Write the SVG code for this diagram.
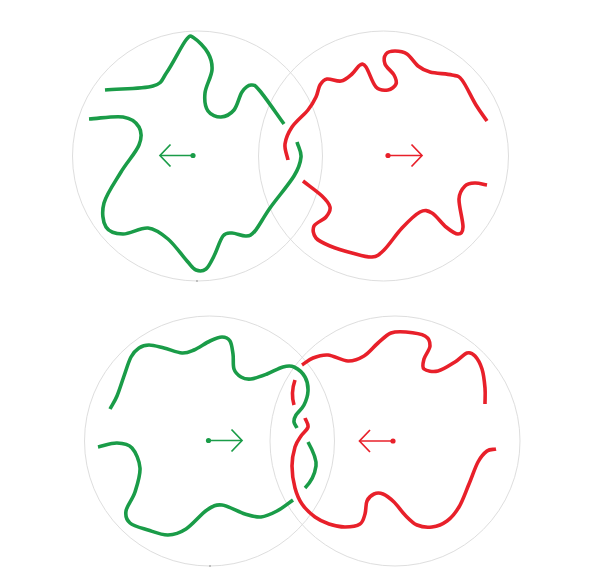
<svg xmlns="http://www.w3.org/2000/svg" width="597" height="587" viewBox="0 0 597 587">
<style>
.ring{fill:none;stroke:#dedede;stroke-width:1}
.g{fill:none;stroke:#1a9c48;stroke-width:3.6;stroke-linecap:butt;stroke-linejoin:round}
.r{fill:none;stroke:#e8202a;stroke-width:3.6;stroke-linecap:butt;stroke-linejoin:round}
.ga{fill:none;stroke:#1a9c48;stroke-width:1.7}
.ra{fill:none;stroke:#e8202a;stroke-width:1.7}
.tick{fill:#333}
</style>
<rect width="597" height="587" fill="#ffffff"/>
<g id="rings">
<circle class="ring" cx="197.5" cy="156" r="125"/>
<circle class="ring" cx="383.5" cy="156" r="125"/>
<circle class="ring" cx="209.5" cy="441" r="125"/>
<circle class="ring" cx="395" cy="441" r="125"/>
<rect class="tick" x="196.5" y="280.5" width="1" height="1"/>
<rect class="tick" x="209.5" y="565.5" width="1" height="1"/>
</g>
<g id="top-green">
<path class="g" d="M105,90 C121,88.7 142.7,89 153,86 S161.5,79.7 167,72 S181.5,45.7 186,40 S190.3,35.8 194,38 S205,47.7 208,53 S212.5,63.3 212,70 S205.7,86.2 205,93 S205.3,107 208,111 S216.7,117.2 221,117 S230.5,114.2 234,110 S239.2,96.2 242,92 S248,85.2 251,85 S254.5,84.5 260,91 S276,113 284,124"/>
<path class="g" d="M89,119 C100.3,118.3 114.7,115.7 123,117 S136.3,122.3 139,127 S142,137.5 139,145 S126.8,162.3 121,172 S106.5,193.8 104,203 S102.8,221.8 106,227 S116,233.8 123,234 S140.5,227.2 148,228 S161.5,233.5 168,239 S182.3,255.8 187,261 S192.8,268.7 196,270 S203,271.3 206,269 S211.2,261.5 214,256 S220,239.8 223,236 S228.2,233 232,233 S242.2,236.3 246,236 S251,235.7 255,231 S263.5,217.2 270,208 S288.8,184.5 294,176 S300.5,162.7 301,157 S298.3,147 297,142"/>
<line class="ga" x1="193" y1="155.5" x2="160" y2="155.5"/>
<polyline class="ga" points="170.5,144.5 160,155.5 170.5,166.5"/>
<circle cx="193" cy="155.5" r="2.6" fill="#1a9c48"/>
</g>
<g id="top-red">
<path class="r" d="M288,160 C287,154.7 284.3,149.5 285,144 S288.2,132.7 292,127 S304,115 308,110 S314,101.2 316,97 S318.2,88 320,85 S323.5,79.7 327,79 S336.8,81.8 341,81 S348.8,76.7 352,74 S357.7,66.2 360,65 S363.3,63.3 366,67 S372.3,83.2 376,87 S384.7,90.5 388,90 S395,86.5 396,84 S395.8,78.3 394,75 S386.3,67.5 385,64 S384.3,56.2 386,54 S391.5,51 395,51 S403.2,51.5 407,54 S414.2,63 418,66 S424.3,70.5 430,72 S446.7,73.7 452,75 S458,75 462,80 S471.8,98.2 476,105 S483.3,115.7 487,121"/>
<path class="r" d="M303,181 C309.3,186 317.5,191.7 322,196 S329.3,203.5 330,207 S328.7,213.8 326,217 S315.7,222.5 314,226 S313.3,234.7 316,238 S324,243.5 330,246 S345,251.2 352,253 S366.7,257.5 372,257 S379,254.8 384,250 S396,234.3 402,228 S415,214.5 420,212 S427.7,210.5 432,213 S441.7,223.5 446,227 S455.2,234 458,234 S462.8,232.8 463,227 S458.7,205.8 459,199 S462.3,188.7 465,186 S471.3,183.2 475,183 S483,184.3 487,185"/>
<line class="ra" x1="388" y1="155.5" x2="422" y2="155.5"/>
<polyline class="ra" points="411.5,144.5 422,155.5 411.5,166.5"/>
<circle cx="388" cy="155.5" r="2.6" fill="#e8202a"/>
</g>
<g id="bottom-green">
<path class="g" d="M110,409 C112.3,404.7 114.7,401.5 117,396 S121.7,382.5 124,376 S128.5,361.7 131,357 S136,350 139,348 S144.8,345 149,345 S158.5,346.7 164,348 S177,352.7 182,353 S189.3,352 194,350 S205.3,343.2 210,341 S218.7,337 222,337 S228.2,338.2 230,341 S232.3,349.3 233,354 S232.7,365.2 234,369 S238.2,375.3 241,377 S246.7,379.5 251,379 S261.7,376 267,374 S278.5,368.2 283,367 S290.3,365.3 294,367 S302.7,373 305,377 S308.2,386.3 308,391 S306,401 304,405 S297.7,412.2 296,415 S293.8,419.8 294,422 S296,426 297,428"/>
<path class="g" d="M98,447 C104.3,445.7 111.3,442.8 117,443 S128.2,443.8 132,448 S139.5,460.7 140,468 S137.3,484.8 135,492 S126.8,505.8 126,511 S126.3,519.8 130,523 S141.7,528 148,530 S161.7,535.2 168,535 S179.5,533.2 186,529 S201,514 207,510 S215.7,504.3 222,505 S238.5,512 245,514 S255.7,517.5 261,517 S271.7,513.8 277,511 S287.7,503.7 293,500"/>
<path class="g" d="M308,442 C313,451 317,459 316,466 S311,482 305,488"/>
<line class="ga" x1="208.5" y1="440.5" x2="242" y2="440.5"/>
<polyline class="ga" points="231.5,429.5 242,440.5 231.5,451.5"/>
<circle cx="208.5" cy="440.5" r="2.6" fill="#1a9c48"/>
</g>
<g id="bottom-red">
<path class="r" d="M302,365 C305.7,362.7 308.7,359.7 313,358 S322.2,354.5 328,355 S342,360.8 348,361 S359,359 364,356 S373.5,346.8 378,343 S386.3,334.8 391,333 S400.3,331.5 406,332 S421,333.7 425,336 S430.2,342.2 430,346 S425,355.2 424,359 S421.7,367 424,369 S432.8,372.2 438,371 S450.2,365 455,362 S463.7,354 467,353 S472.5,353.3 475,356 S480.3,363.7 482,369 S484.5,382.2 485,388 S485,398.7 485,404"/>
<path class="r" d="M295,380 Q290.5,393 294,405"/>
<path class="r" d="M305,418 C306,421 308.7,424 308,427 S303.2,432.7 301,436 S296.5,442 295,447 S292,459.2 292,466 S293.3,481.7 295,488 S298.7,499.2 302,504 S310.5,513.7 315,517 S324,522.3 329,524 S339.8,527 345,527 S356.7,526.2 360,524 S363.8,517.8 365,514 S365.5,504.3 367,501 S371.3,495.2 374,494 S379.7,492.7 383,494 S390.3,498.5 394,502 S401.2,511.2 405,515 S412.5,523 417,525 S427,527.7 432,527 S442.5,524.3 447,521 S455.3,513.2 459,507 S465.8,491.5 469,484 S475,467.5 478,462 S484,453.2 487,451 S493,449.7 496,449"/>
<line class="ra" x1="393" y1="441" x2="359.5" y2="441"/>
<polyline class="ra" points="370,430 359.5,441 370,452"/>
<circle cx="393" cy="441" r="2.6" fill="#e8202a"/>
</g>
</svg>
